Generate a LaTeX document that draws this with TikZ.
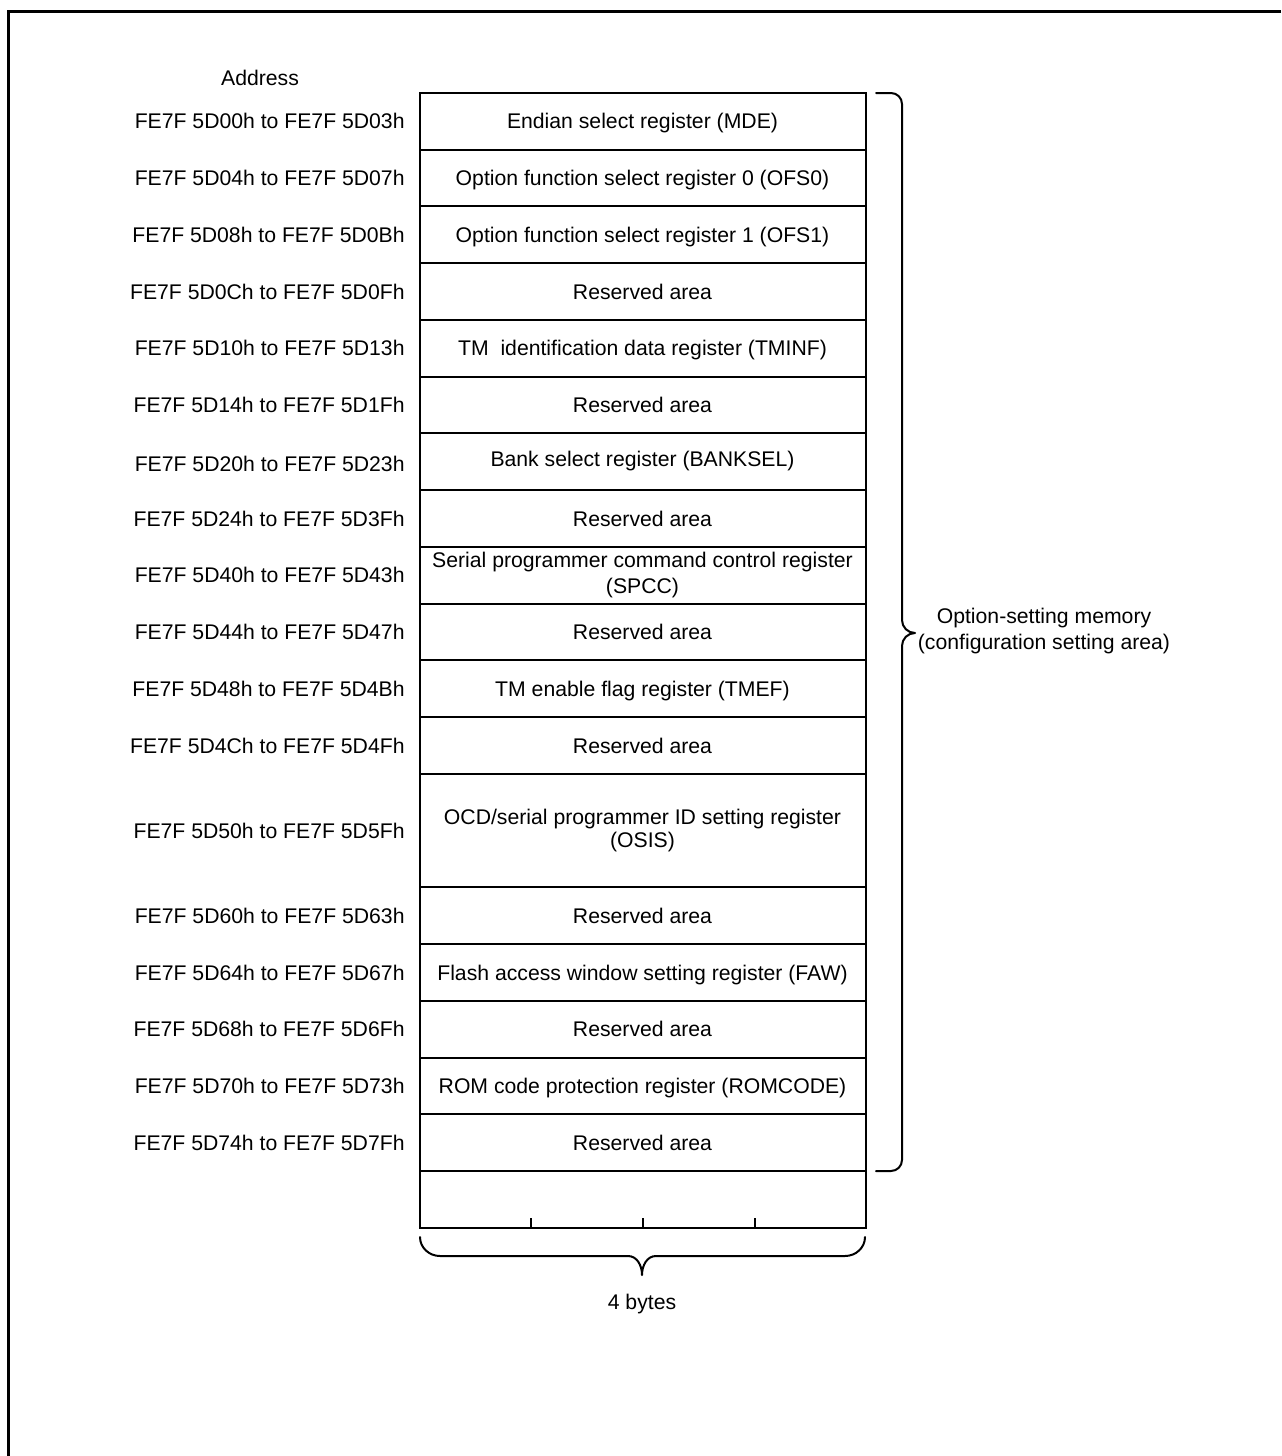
\documentclass[tikz,border=0pt]{standalone}
\usepackage{fontspec}
\setmainfont{Liberation Sans}
\usetikzlibrary{calc}
\begin{document}
\begin{tikzpicture}[x=0.5pt,y=0.5pt,
  every node/.style={font=\fontsize{10.6}{11}\selectfont},
  reg/.style={draw,line width=1pt,minimum width=223pt,minimum height=28.37pt,inner sep=0pt,align=center},
  one/.style={reg,text height=9.5pt,text depth=2pt},
  regtwo/.style={reg,minimum height=56.74pt},
  addr/.style={anchor=east,inner sep=0pt},
  brace/.style={line width=1pt,line cap=round,line join=round}]
\useasboundingbox (0,0) rectangle (1281,-1456);
\draw[line width=1.5pt] (1281,-11) -- (8,-11) -- (8,-1456);

\node (addrhead) at (260,-78) {Address};

\node[one] (r1)  at (642.5,-121.4) {Endian select register (MDE)};
\node[one] (r2)  at (642.5,-178.1) {Option function select register 0 (OFS0)};
\node[one] (r3)  at (642.5,-234.8) {Option function select register 1 (OFS1)};
\node[one] (r4)  at (642.5,-291.6) {Reserved area};
\node[one] (r5)  at (642.5,-348.3) {TM\ \ identification data register (TMINF)};
\node[one] (r6)  at (642.5,-405.1) {Reserved area};
\node[one] (r7)  at (642.5,-461.8) {\raisebox{1.5pt}{Bank select register (BANKSEL)}};
\node[one] (r8)  at (642.5,-518.5) {Reserved area};
\node[reg,font=\fontsize{10.6}{10}\selectfont] (r9)  at (642.5,-575.3) {\raisebox{1pt}{\shortstack{Serial programmer command control register\\(SPCC)}}};
\node[one] (r10) at (642.5,-632.0) {Reserved area};
\node[one] (r11) at (642.5,-688.8) {TM enable flag register (TMEF)};
\node[one] (r12) at (642.5,-745.5) {Reserved area};
\node[regtwo,font=\fontsize{10.6}{11.4}\selectfont] (r13) at (642.5,-830.6) {OCD/serial programmer ID setting register\\(OSIS)};
\node[one] (r14) at (642.5,-915.7) {Reserved area};
\node[one] (r15) at (642.5,-972.5) {Flash access window setting register (FAW)};
\node[one] (r16) at (642.5,-1029.2) {Reserved area};
\node[one] (r17) at (642.5,-1086.0) {ROM code protection register (ROMCODE)};
\node[one] (r18) at (642.5,-1142.7) {Reserved area};
\node[reg] (r19) at (642.5,-1199.4) {};

\node[addr] (a1)  at (405,-121.4) {FE7F 5D00h to FE7F 5D03h};
\node[addr] (a2)  at (405,-178.1) {FE7F 5D04h to FE7F 5D07h};
\node[addr] (a3)  at (405,-234.8) {FE7F 5D08h to FE7F 5D0Bh};
\node[addr] (a4)  at (405,-291.6) {FE7F 5D0Ch to FE7F 5D0Fh};
\node[addr] (a5)  at (405,-348.3) {FE7F 5D10h to FE7F 5D13h};
\node[addr] (a6)  at (405,-405.1) {FE7F 5D14h to FE7F 5D1Fh};
\node[addr] (a7)  at (405,-463.8) {FE7F 5D20h to FE7F 5D23h};
\node[addr] (a8)  at (405,-518.5) {FE7F 5D24h to FE7F 5D3Fh};
\node[addr] (a9)  at (405,-575.3) {FE7F 5D40h to FE7F 5D43h};
\node[addr] (a10) at (405,-632.0) {FE7F 5D44h to FE7F 5D47h};
\node[addr] (a11) at (405,-688.8) {FE7F 5D48h to FE7F 5D4Bh};
\node[addr] (a12) at (405,-745.5) {FE7F 5D4Ch to FE7F 5D4Fh};
\node[addr] (a13) at (405,-830.6) {FE7F 5D50h to FE7F 5D5Fh};
\node[addr] (a14) at (405,-915.7) {FE7F 5D60h to FE7F 5D63h};
\node[addr] (a15) at (405,-972.5) {FE7F 5D64h to FE7F 5D67h};
\node[addr] (a16) at (405,-1029.2) {FE7F 5D68h to FE7F 5D6Fh};
\node[addr] (a17) at (405,-1086.0) {FE7F 5D70h to FE7F 5D73h};
\node[addr] (a18) at (405,-1142.7) {FE7F 5D74h to FE7F 5D7Fh};

% ticks on the bottom box
\foreach \f in {0.25,0.5,0.75}
  \draw[line width=1pt] ($(r19.south west)!\f!(r19.south east)$) -- ++(0,11);

% right brace
\draw[brace] (876,-93) -- (891,-93) to[out=0,in=90] (902,-104) -- (902,-620)
  to[out=-90,in=180] (915,-633) to[out=180,in=90] (902,-646) -- (902,-1160)
  to[out=-90,in=0] (891,-1171) -- (876,-1171);
\node[align=center,font=\fontsize{10.6}{12.6}\selectfont] (opt) at (1044,-631) {Option-setting memory\\(configuration setting area)};

% bottom brace
\draw[brace] (420,-1237) to[out=-90,in=180] (440,-1256) -- (628,-1256)
  to[out=0,in=90] (642,-1275) to[out=90,in=180] (656,-1256) -- (845,-1256)
  to[out=0,in=-90] (865,-1237);
\node (bytes) at (642,-1304) {4 bytes};
\end{tikzpicture}
\end{document}
